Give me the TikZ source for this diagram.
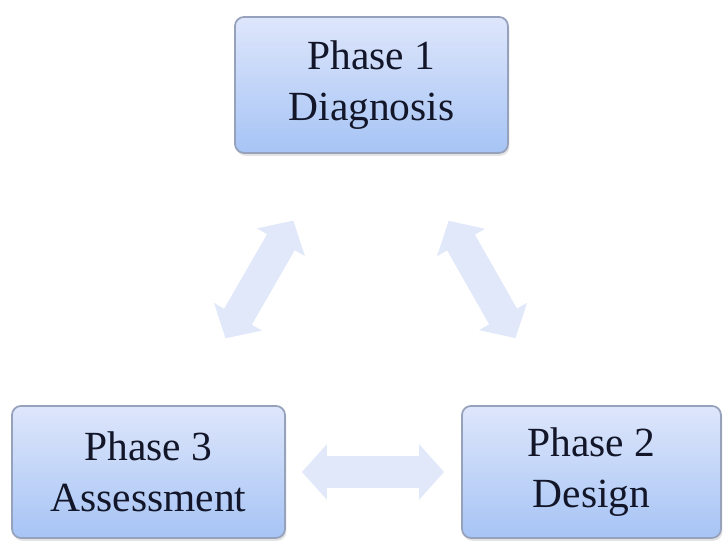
\documentclass[tikz,border=0pt]{standalone}
\usepackage{fontspec}
\setmainfont{Liberation Serif}
\usepackage{tikz}
\usetikzlibrary{arrows.meta, shadows, positioning, calc}
\definecolor{boxtop}{RGB}{222, 230, 251}
\definecolor{boxbot}{RGB}{166, 196, 245}
\definecolor{boxline}{RGB}{150, 162, 188}
\definecolor{arrfill}{RGB}{224, 232, 250}
\definecolor{phtext}{RGB}{18, 22, 40}

\begin{document}
\begin{tikzpicture}[
        every node/.style={font=\fontsize{11.8}{14.4}\selectfont},
        phase/.style={draw=boxline, line width=0.5pt, rounded corners=0.09cm,
            top color=boxtop, bottom color=boxbot, text=phtext, align=center,
            drop shadow={opacity=0.22, shadow xshift=0.4pt, shadow yshift=-0.8pt},
            minimum height=1.32cm, inner sep=0pt},
        arr/.style={draw=arrfill, line width=0.32cm,
            {Triangle[length=0.25cm, width=0.54cm]}-{Triangle[length=0.25cm, width=0.54cm]}}
    ]
    \useasboundingbox (0, 0) rectangle (7.26, 5.41);

    % Phases
    \node[phase, minimum width=2.73cm, minimum height=1.36cm] (ph1) at (3.715, 4.56) {Phase 1\\Diagnosis};
    \node[phase, minimum width=2.73cm] (ph3) at (1.485, 0.69) {Phase 3\\Assessment};
    \node[phase, minimum width=2.59cm] (ph2) at (5.915, 0.69) {Phase 2\\Design};

    % Arrows
    \draw[arr, shorten <=0.77cm, shorten >=0.77cm] (ph1) -- (ph3);
    \draw[arr, shorten <=0.77cm, shorten >=0.77cm] (ph1) -- (ph2);
    \draw[arr, shorten <=0.16cm, shorten >=0.17cm] (ph3) -- (ph2);
\end{tikzpicture}
\end{document}
